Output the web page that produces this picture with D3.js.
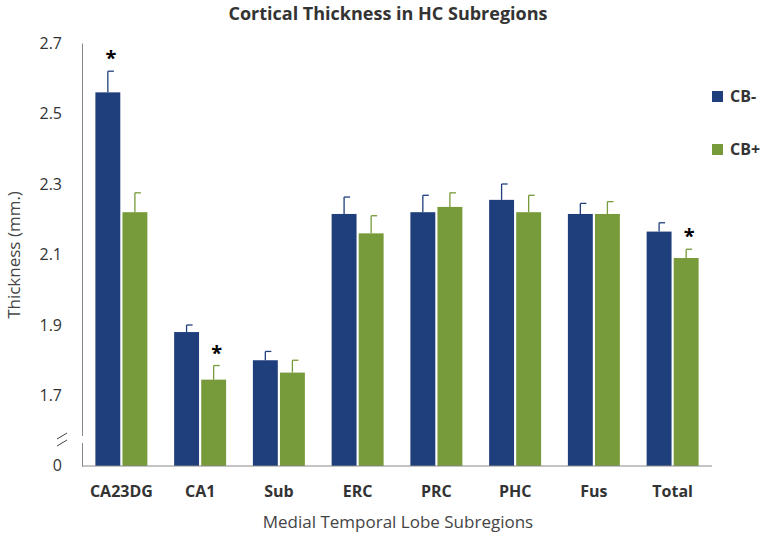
<!DOCTYPE html>
<html><head><meta charset="utf-8">
<script src="https://cdn.jsdelivr.net/npm/d3@7"></script>
<style>body{margin:0;background:#fff;font-family:"Open Sans",Arial,sans-serif}</style>
</head><body><svg id="c" width="771" height="539"></svg>
<script>
const categories=["CA23DG","CA1","Sub","ERC","PRC","PHC","Fus","Total"];
const cbMinus=[2.56,1.88,1.80,2.215,2.22,2.255,2.215,2.165];
const cbMinusErr=[0.06,0.02,0.025,0.048,0.048,0.045,0.03,0.025];
const cbPlus=[2.22,1.745,1.765,2.16,2.235,2.22,2.215,2.09];
const cbPlusErr=[0.055,0.04,0.035,0.05,0.04,0.048,0.035,0.025];
const yTicks=[1.7,1.9,2.1,2.3,2.5,2.7];
const stars=[[0,"CB-"],[1,"CB+"],[7,"CB+"]];
const series=[{name:"CB-",vals:cbMinus,err:cbMinusErr,color:"#1f3e7c"},{name:"CB+",vals:cbPlus,err:cbPlusErr,color:"#779a3a"}];
const svg=d3.select("#c");
const x=d3.scaleBand().domain(categories).range([82,712]).paddingInner(0.34).paddingOuter(0.17);
const xs=d3.scaleBand().domain(["CB-","CB+"]).range([0,x.bandwidth()]).paddingInner(0.08);
const y=d3.scaleLinear().domain([1.5,2.7]).range([466,43]);
svg.append("text").attr("x",388).attr("y",20).attr("text-anchor","middle").attr("font-weight","bold").attr("font-size",18).attr("fill","#333").text("Cortical Thickness in HC Subregions");
series.forEach(s=>{
 const g=svg.append("g");
 categories.forEach((c,i)=>{
  const bx=x(c)+xs(s.name),w=xs.bandwidth();
  g.append("rect").attr("x",bx).attr("width",w).attr("y",y(s.vals[i])).attr("height",y(1.5)-y(s.vals[i])).attr("fill",s.color);
  const cx=bx+w/2,top=y(s.vals[i]+s.err[i]);
  g.append("line").attr("x1",cx).attr("x2",cx).attr("y1",y(s.vals[i])).attr("y2",top).attr("stroke",s.color).attr("stroke-width",1.3);
  g.append("line").attr("x1",cx).attr("x2",cx+6).attr("y1",top).attr("y2",top).attr("stroke",s.color).attr("stroke-width",1.3);
 });
});
stars.forEach(([i,n])=>{
 const s=series.find(d=>d.name===n);
 svg.append("text").attr("x",x(categories[i])+xs(n)+xs.bandwidth()/2+3).attr("y",y(s.vals[i]+s.err[i])-6).attr("text-anchor","middle").attr("font-size",20).attr("font-weight","bold").text("*");
});
const ya=svg.append("g").attr("transform","translate(82,0)").call(d3.axisLeft(y).tickValues(yTicks).tickSize(0).tickPadding(20).tickFormat(d3.format(".1f")));
ya.select(".domain").attr("stroke","#888");
ya.selectAll("text").attr("font-size",16).attr("fill","#333").attr("font-family","Open Sans");
svg.append("text").attr("x",82-20).attr("y",y(1.5)+5).attr("text-anchor","end").attr("font-size",16).attr("fill","#333").text("0");
svg.append("rect").attr("x",76).attr("y",436).attr("width",12).attr("height",7).attr("fill","#fff");
[436,443].forEach(v=>svg.append("line").attr("x1",57).attr("x2",67).attr("y1",v+3).attr("y2",v-3).attr("stroke","#444"));
svg.append("line").attr("x1",82).attr("x2",712).attr("y1",466).attr("y2",466).attr("stroke","#888");
const xa=svg.append("g").attr("transform","translate(0,466)").call(d3.axisBottom(x).tickSize(0).tickPadding(20));
xa.select(".domain").remove();
xa.selectAll("text").attr("font-size",16).attr("font-weight","bold").attr("fill","#333").attr("font-family","Open Sans");
svg.append("text").attr("transform","translate(20,255) rotate(-90)").attr("text-anchor","middle").attr("font-size",17).attr("fill","#444").text("Thickness (mm.)");
svg.append("text").attr("x",398).attr("y",528).attr("text-anchor","middle").attr("font-size",17).attr("fill","#444").text("Medial Temporal Lobe Subregions");
series.forEach((s,i)=>{
 const ly=97+i*53;
 svg.append("rect").attr("x",712).attr("y",ly-6).attr("width",11).attr("height",11).attr("fill",s.color);
 svg.append("text").attr("x",730).attr("y",ly+5).attr("font-size",16).attr("font-weight","bold").attr("fill","#333").text(s.name);
});
</script></body></html>
